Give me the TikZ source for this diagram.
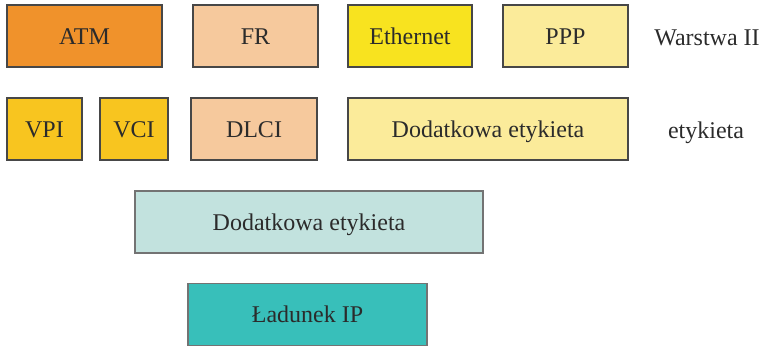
\documentclass[tikz,border=0pt]{standalone}
\usepackage{fontspec}
\setmainfont{Liberation Serif}
\usepackage{tikz}

\definecolor{atmorange}{HTML}{F0922B}
\definecolor{frpeach}{HTML}{F6C99D}
\definecolor{ethyellow}{HTML}{F8E31F}
\definecolor{ppplight}{HTML}{FBEB9A}
\definecolor{vpiyellow}{HTML}{F8C51F}
\definecolor{labmint}{HTML}{C2E2DE}
\definecolor{ipteal}{HTML}{38BFBA}
\definecolor{textgray}{HTML}{2B2B2B}

\tikzset{
  cell/.style={draw=black!72, line width=1.2pt, text=textgray,
    font=\fontsize{24}{27}\selectfont, inner sep=0pt, minimum height=62,
    text height=16pt, text depth=0pt},
  side/.style={text=textgray, font=\fontsize{24}{27}\selectfont, anchor=base}
}

\begin{document}
\begin{tikzpicture}[x=1pt,y=-1pt]
\useasboundingbox (0,0) rectangle (762,346);

% warstwa II
\node[cell, fill=atmorange, minimum width=155] (atm) at (84.5,36) {ATM};
\node[cell, fill=frpeach, minimum width=125] (fr) at (255.5,36) {FR};
\node[cell, fill=ethyellow, minimum width=124] (eth) at (410,36) {Ethernet};
\node[cell, fill=ppplight, minimum width=125] (ppp) at (565.5,36) {PPP};
\node[side] (warstwa) at (707,45) {Warstwa II};

% etykiety
\node[cell, fill=vpiyellow, minimum width=75] (vpi) at (44.5,129) {VPI};
\node[cell, fill=vpiyellow, minimum width=68] (vci) at (134,129) {VCI};
\node[cell, fill=frpeach, minimum width=126] (dlci) at (254,129) {DLCI};
\node[cell, fill=ppplight, minimum width=280] (dodatkowa) at (488,129) {Dodatkowa etykieta};
\node[side] (etykieta) at (706,138) {etykieta};

% dodatkowa etykieta i ladunek
\node[cell, fill=labmint, draw=black!55, minimum width=348] (dod) at (309,222) {Dodatkowa etykieta};
\node[cell, fill=ipteal, draw=black!55, minimum width=239] (ip) at (307.5,314.5) {Ładunek IP};
\end{tikzpicture}
\end{document}
